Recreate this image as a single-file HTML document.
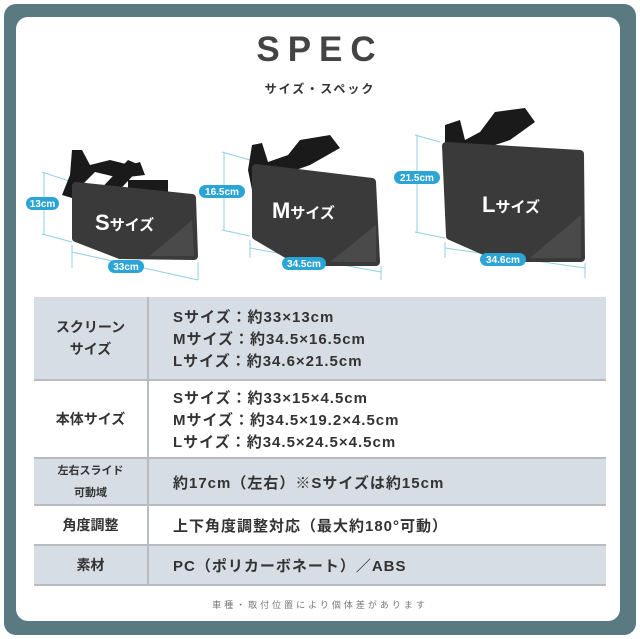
<!DOCTYPE html>
<html><head><meta charset="utf-8"><style>
body{margin:0;width:640px;height:639px;background:#fff;position:relative;overflow:hidden;font-family:"Liberation Sans","Noto Sans CJK JP",sans-serif}
.outer{position:absolute;left:4px;top:4px;width:632px;height:631px;background:#5a7a82;border-radius:12px}
.inner{position:absolute;left:16px;top:17px;width:604px;height:604px;background:#fff;border-radius:12px}
.t{position:absolute;color:#333;font-weight:bold}
table{position:absolute;left:34px;top:297px;width:572px;border-collapse:collapse}
td{padding:0;font-weight:bold;color:#333}
td.l{width:113px;text-align:center;font-size:14px;border-right:2px solid #b8bcc0;line-height:22px}
td.r{padding-left:24px;padding-top:4px;font-size:15px;letter-spacing:1px;line-height:22px}
tr{border-bottom:2px solid #b8bcc0}
tr.g{background:#d6dde4}
</style></head><body>
<div class="outer"></div><div class="inner"></div>
<div class="t" style="left:0;width:640px;top:30px;text-align:center;font-size:35px;letter-spacing:8px;color:#444">SPEC</div>
<div class="t" style="left:0;width:640px;top:80px;text-align:center;font-size:12px;letter-spacing:2px">サイズ・スペック</div>
<svg style="position:absolute;left:0;top:0" width="640" height="290">
<g stroke="#8fd0e6" stroke-width="1" fill="none">
<path d="M42 172 L72 182 M42 234 L72 242 M44 172 L44 234 M72 245 L72 268 M198 262 L198 280 M72 252 L198 280"/>
<path d="M222 152 L250 160 M222 230 L250 236 M224 152 L224 230 M250 240 L250 258 M381 266 L381 280 M250 248 L381 272"/>
<path d="M415 135 L440 142 M415 232 L445 238 M417 135 L417 232 M445 242 L445 258 M585 263 L585 278 M445 248 L585 268"/>
</g>
<g fill="#1a1a1a">
<path d="M72 150 L82 150 L90 165 L110 160 L130 165 L140 162 L145 175 L120 178 L95 172 L82 185 L72 198 L62 195 L70 175Z"/>
<path d="M95 195 L128 160 L142 166 L112 198Z"/>
<path d="M128 180 L168 180 L168 192 L128 190Z"/>
<path d="M252 145 L262 143 L268 162 L288 155 L300 140 L330 135 L340 148 L310 165 L290 172 L270 180 L252 190 L248 170Z"/>
<path d="M445 125 L460 120 L465 140 L480 132 L495 112 L525 108 L535 122 L510 140 L480 150 L455 158 L445 150Z"/>
</g>
<g fill="#3a3a3a" stroke="#3a3a3a" stroke-width="8" stroke-linejoin="round">
<path d="M76 186 L192 198 L194 256 L120 255 L76 238Z"/>
<path d="M256 168 L372 182 L376 262 L300 262 L256 236Z"/>
<path d="M446 146 L580 154 L581 258 L500 258 L450 236Z"/>
</g>
<g fill="#5a5a5a" opacity=".5"><path d="M150 256 L192 220 L194 256Z"/><path d="M330 262 L376 225 L376 262Z"/><path d="M530 258 L581 215 L581 258Z"/></g>
<g fill="#fff" font-weight="bold" font-family="Liberation Sans,Noto Sans CJK JP,sans-serif">
<text x="95" y="230" font-size="22">S<tspan font-size="15">サイズ</tspan></text>
<text x="272" y="218" font-size="22">M<tspan font-size="15">サイズ</tspan></text>
<text x="482" y="212" font-size="22">L<tspan font-size="15">サイズ</tspan></text>
</g>
<g fill="#2ba4d6"><rect x="26" y="197" width="33" height="13" rx="6.5"/><rect x="108" y="260" width="36" height="13" rx="6.5"/><rect x="199" y="185" width="46" height="13" rx="6.5"/><rect x="282" y="257" width="44" height="13" rx="6.5"/><rect x="394" y="171" width="46" height="13" rx="6.5"/><rect x="480" y="253" width="46" height="13" rx="6.5"/></g>
<g fill="#fff" font-size="10" font-weight="bold" text-anchor="middle" font-family="Liberation Sans,sans-serif">
<text x="42.5" y="207">13cm</text><text x="126" y="270">33cm</text><text x="222" y="195">16.5cm</text><text x="304" y="267">34.5cm</text><text x="417" y="181">21.5cm</text><text x="503" y="263">34.6cm</text></g>
</svg>
<table>
<tr class="g" style="height:83px"><td class="l">スクリーン<br>サイズ</td><td class="r">Sサイズ：約33×13cm<br>Mサイズ：約34.5×16.5cm<br>Lサイズ：約34.6×21.5cm</td></tr>
<tr style="height:78px"><td class="l">本体サイズ</td><td class="r">Sサイズ：約33×15×4.5cm<br>Mサイズ：約34.5×19.2×4.5cm<br>Lサイズ：約34.5×24.5×4.5cm</td></tr>
<tr class="g" style="height:47px"><td class="l" style="font-size:11px">左右スライド<br>可動域</td><td class="r">約17cm（左右）※Sサイズは約15cm</td></tr>
<tr style="height:40px"><td class="l">角度調整</td><td class="r">上下角度調整対応（最大約180°可動）</td></tr>
<tr class="g" style="height:40px"><td class="l">素材</td><td class="r">PC（ポリカーボネート）／ABS</td></tr>
</table>
<div class="t" style="left:0;width:640px;top:598px;text-align:center;font-size:9px;letter-spacing:3px;color:#777;font-weight:normal">車種・取付位置により個体差があります</div>
</body></html>
